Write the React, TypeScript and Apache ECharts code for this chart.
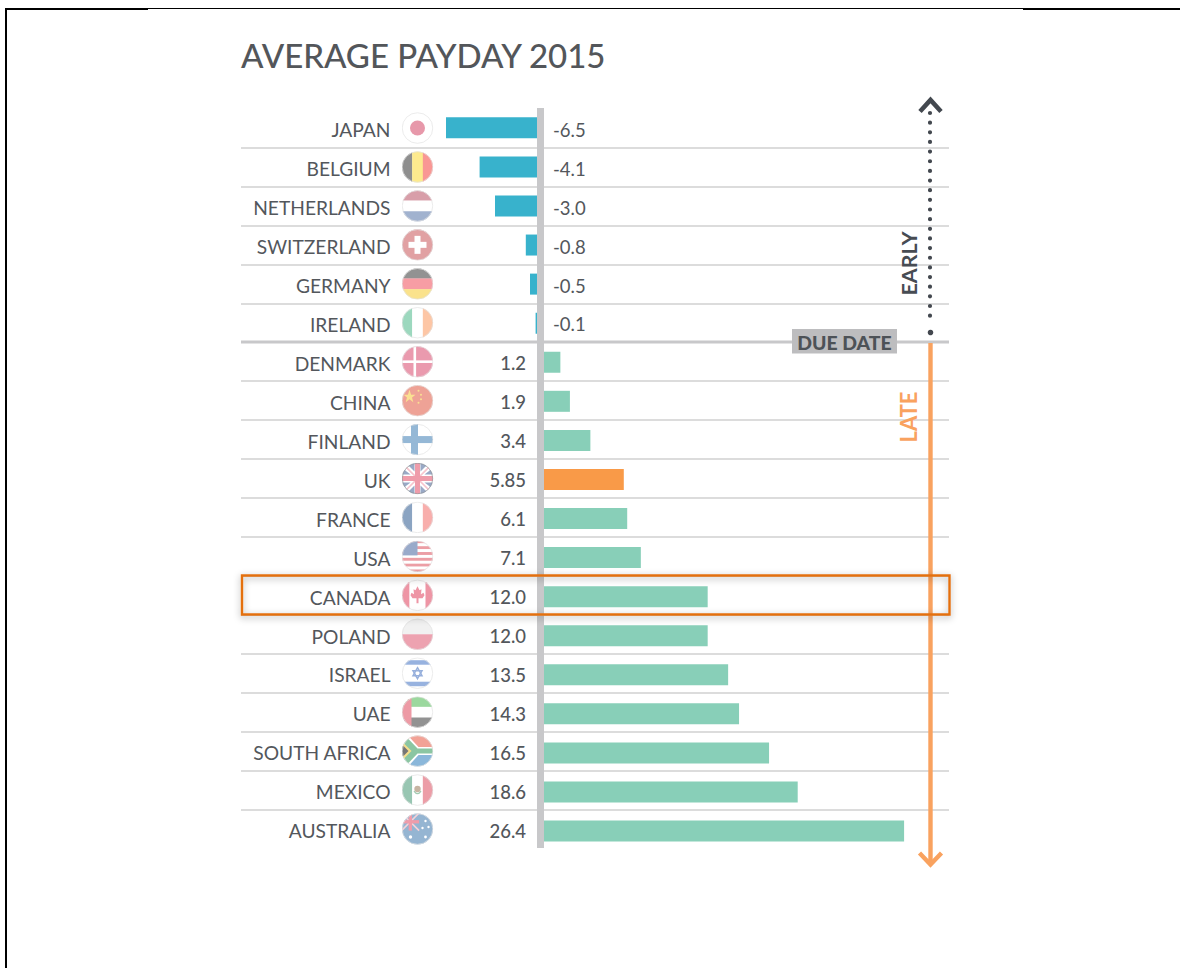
import React, { useEffect, useRef } from "react";
import * as echarts from "echarts";

const countries = ["JAPAN","BELGIUM","NETHERLANDS","SWITZERLAND","GERMANY","IRELAND","DENMARK","CHINA","FINLAND","UK","FRANCE","USA","CANADA","POLAND","ISRAEL","UAE","SOUTH AFRICA","MEXICO","AUSTRALIA"];
const values = [-6.5,-4.1,-3.0,-0.8,-0.5,-0.1,1.2,1.9,3.4,5.85,6.1,7.1,12.0,12.0,13.5,14.3,16.5,18.6,26.4];
const valueLabels = ["-6.5","-4.1","-3.0","-0.8","-0.5","-0.1","1.2","1.9","3.4","5.85","6.1","7.1","12.0","12.0","13.5","14.3","16.5","18.6","26.4"];
const highlighted = "UK";

const FONT = "Lato";
const TEXT = "#53575c";
const GRID = "#dcdcdc";
const AXIS = "#c8c8ca";
const EARLY = "#38b2cc";
const LATE = "#88cfb8";
const ORANGE = "#f99a48";
const DARK = "#43484f";

const stripesH = (c: string[]) => c.map((f, i) => `<rect x="0" y="${(32 / c.length) * i}" width="32" height="${32 / c.length + 0.2}" fill="${f}"/>`).join("");
const stripesV = (c: string[]) => c.map((f, i) => `<rect y="0" x="${(32 / c.length) * i}" height="32" width="${32 / c.length + 0.2}" fill="${f}"/>`).join("");
const unionJack = `<rect width="32" height="32" fill="#fff"/><polygon points="4,0 13,0 13,9" fill="#8094b8"/><polygon points="19,0 28,0 19,9" fill="#8094b8"/><polygon points="0,5 9,12 0,12" fill="#8094b8"/><polygon points="32,5 23,12 32,12" fill="#8094b8"/><polygon points="0,27 9,20 0,20" fill="#8094b8"/><polygon points="32,27 23,20 32,20" fill="#8094b8"/><polygon points="4,32 13,32 13,23" fill="#8094b8"/><polygon points="19,32 28,32 19,23" fill="#8094b8"/><path d="M0 0L32 32M32 0L0 32" stroke="#f5b6c0" stroke-width="1.6"/><rect x="13.5" width="5" height="32" fill="#ec8496"/><rect y="13.5" width="32" height="5" fill="#ec8496"/>`;

const flagArt: Record<string, string> = {
  JAPAN: `<rect width="32" height="32" fill="#fff"/><circle cx="16" cy="16" r="7.5" fill="#e27f95"/>`,
  BELGIUM: stripesV(["#737373", "#fde672", "#f87e7a"]),
  NETHERLANDS: stripesH(["#cf8794", "#ffffff", "#8a9fc4"]),
  SWITZERLAND: `<rect width="32" height="32" fill="#da8a8d"/><rect x="13" y="7" width="6" height="18" fill="#fff"/><rect x="7" y="13" width="18" height="6" fill="#fff"/>`,
  GERMANY: stripesH(["#777777", "#f6858e", "#f9dc70"]),
  IRELAND: stripesV(["#84cfae", "#ffffff", "#fdb98f"]),
  DENMARK: `<rect width="32" height="32" fill="#e6829b"/><rect x="12" width="2.6" height="32" fill="#fff"/><rect y="14.7" width="32" height="2.6" fill="#fff"/>`,
  CHINA: `<rect width="32" height="32" fill="#eb8c7c"/><polygon points="8,5 9.6,10 14,10 10.5,12.8 11.8,17.5 8,14.6 4.2,17.5 5.5,12.8 2,10 6.4,10" fill="#f9d977"/><circle cx="17" cy="6" r="1" fill="#f9d977"/><circle cx="19.5" cy="10" r="1" fill="#f9d977"/><circle cx="19.5" cy="14.5" r="1" fill="#f9d977"/><circle cx="17" cy="18" r="1" fill="#f9d977"/>`,
  FINLAND: `<rect width="32" height="32" fill="#fff"/><rect x="9.5" width="7" height="32" fill="#7ba7cd"/><rect y="12.5" width="32" height="7" fill="#7ba7cd"/>`,
  UK: unionJack,
  FRANCE: stripesV(["#6f8eb4", "#ffffff", "#f79a98"]),
  USA: stripesH(["#e8868f", "#fff", "#e8868f", "#fff", "#e8868f", "#fff", "#e8868f", "#fff", "#e8868f", "#fff", "#e8868f"]) + `<rect width="16" height="15" fill="#8095bd"/>`,
  CANADA: stripesV(["#ea7b8f", "#ffffff", "#ffffff", "#ea7b8f"]) + `<polygon points="16,7 18,11 20,10 19.5,15 22,13.5 23,16 21,19 17,19 17,24 15,24 15,19 11,19 9,16 10,13.5 12.5,15 12,10 14,11" fill="#ea7b8f"/>`,
  POLAND: stripesH(["#eeeeee", "#e98b9d"]),
  ISRAEL: `<rect width="32" height="32" fill="#fff"/><rect y="3" width="32" height="4.5" fill="#7ea0d8"/><rect y="24.5" width="32" height="4.5" fill="#7ea0d8"/><polygon points="16,10.5 20.5,18.5 11.5,18.5" fill="none" stroke="#7e9dd4" stroke-width="1.5"/><polygon points="16,21.5 20.5,13.5 11.5,13.5" fill="none" stroke="#7e9dd4" stroke-width="1.5"/>`,
  UAE: stripesH(["#83cf86", "#ffffff", "#777777"]) + `<rect width="10" height="32" fill="#e9828f"/>`,
  "SOUTH AFRICA": `<rect width="32" height="16" fill="#f08b7c"/><rect y="16" width="32" height="16" fill="#6ea6d1"/><polygon points="0,0 6,0 17,12 32,12 32,20 17,20 6,32 0,32" fill="#fff"/><polygon points="0,2 5,2 16,13.5 32,13.5 32,18.5 16,18.5 5,30 0,30" fill="#6fb98c"/><polygon points="0,6 10,16 0,26" fill="#f4d76f"/><polygon points="0,9 7,16 0,23" fill="#555"/>`,
  MEXICO: stripesV(["#7fb9a0", "#ffffff", "#e88592"]) + `<circle cx="16" cy="15" r="3.2" fill="#b9a28c"/><path d="M12.5 17 Q16 22 19.5 17" fill="none" stroke="#8bbd9f" stroke-width="1.3"/>`,
  AUSTRALIA: `<rect width="32" height="32" fill="#7ba3c8"/><g transform="scale(0.55)"><path d="M0 0L32 32M32 0L0 32" stroke="#f3c6cf" stroke-width="3"/><rect x="13" width="6" height="32" fill="#ec8496"/><rect y="13" width="32" height="6" fill="#ec8496"/></g><circle cx="9" cy="24" r="1.7" fill="#fff"/><circle cx="24" cy="8" r="1.2" fill="#fff"/><circle cx="27" cy="14" r="1.2" fill="#fff"/><circle cx="21" cy="15" r="1.2" fill="#fff"/><circle cx="24" cy="24" r="1.4" fill="#fff"/>`,
};

function flagSymbol(name: string) {
  const border = name === "UK" ? "#777b80" : "#dcdcdc";
  const id = "c" + name.replace(/\s/g, "");
  const svg = `<svg xmlns="http://www.w3.org/2000/svg" width="64" height="64" viewBox="0 0 32 32"><defs><clipPath id="${id}"><circle cx="16" cy="16" r="15.5"/></clipPath></defs><g clip-path="url(#${id})">${flagArt[name]}</g><circle cx="16" cy="16" r="15.3" fill="none" stroke="${border}" stroke-width="0.7"/></svg>`;
  return "image://data:image/svg+xml;charset=utf-8," + encodeURIComponent(svg);
}

const hLine = (x1: number, y1: number, x2: number, y2: number, stroke: string, lineWidth: number, z = 10, extra: any = {}) => ({
  type: "line", z, shape: { x1, y1, x2, y2 }, style: { stroke, lineWidth, ...extra },
});

export default function App() {
  const ref = useRef<HTMLDivElement>(null);
  useEffect(() => {
    const chart = echarts.init(ref.current!, undefined, { renderer: "svg" });
    const hiddenCat = (gridIndex: number, extra: any = {}) => ({
      type: "category", gridIndex, data: countries, inverse: true,
      axisLine: { show: false }, axisTick: { show: false }, axisLabel: { show: false }, splitLine: { show: false }, ...extra,
    });
    const hiddenVal = (gridIndex: number, min: number, max: number) => ({
      type: "value", gridIndex, min, max, show: false, splitLine: { show: false },
    });
    const valueLabelStyle = { fontFamily: FONT, fontSize: 18.5, color: TEXT, interval: 0 };
    chart.setOption({
      animation: false,
      backgroundColor: "#ffffff",
      title: {
        text: "AVERAGE PAYDAY 2015", left: 241, top: 38, padding: 0,
        textStyle: { fontFamily: FONT, fontSize: 33, fontWeight: 500, color: "#53565a" },
      },
      grid: [
        { left: 241, top: 108.56, width: 708, height: 739.9 },
        { left: 241, top: 108.3, width: 296, height: 742.3 },
        { left: 544, top: 108.3, width: 405, height: 742.3 },
        { left: 401.5, top: 108.56, width: 32, height: 739.9 },
        { left: 526, top: 110.3, width: 27, height: 739.9 },
        { left: 401.5, top: 110.3, width: 32, height: 739.9 },
      ],
      xAxis: [
        hiddenVal(0, 0, 1),
        hiddenVal(1, -296 / 14, 0),
        hiddenVal(2, 0, 405 / 13.64),
        hiddenVal(3, 0, 1),
        hiddenVal(4, 0, 1),
        hiddenVal(5, 0, 1),
      ],
      yAxis: [
        hiddenCat(0, { splitLine: { show: true, showMinLine: false, showMaxLine: false, interval: 0, lineStyle: { color: GRID, width: 2 } } }),
        hiddenCat(1),
        hiddenCat(2),
        hiddenCat(3),
        hiddenCat(4, { position: "left", axisLabel: { show: true, margin: 0, ...valueLabelStyle, fontWeight: 500, formatter: (_: string, i: number) => (values[i] > 0 ? valueLabels[i] : "") } }),
        hiddenCat(4, { position: "right", axisLabel: { show: true, margin: 0, ...valueLabelStyle, formatter: (_: string, i: number) => (values[i] < 0 ? valueLabels[i] : "") } }),
        hiddenCat(5, { axisLabel: { show: true, interval: 0, margin: 11, fontFamily: FONT, fontSize: 19.2, color: TEXT } }),
      ],
      series: [
        {
          type: "bar", name: "Early", xAxisIndex: 1, yAxisIndex: 1, barWidth: 21,
          itemStyle: { color: EARLY },
          data: values.map((v) => (v < 0 ? v : null)),
        },
        {
          type: "bar", name: "Late", xAxisIndex: 2, yAxisIndex: 2, barWidth: 21,
          itemStyle: { color: LATE },
          data: values.map((v, i) => (v > 0 ? { value: v, itemStyle: { color: countries[i] === highlighted ? ORANGE : LATE } } : null)),
        },
        {
          type: "scatter", name: "Flags", xAxisIndex: 3, yAxisIndex: 3, symbolSize: 32, silent: true,
          data: countries.map((c) => ({ value: [0.5, c], symbol: flagSymbol(c) })),
        },
      ],
      graphic: [
        { type: "rect", z: 20, shape: { x: 5, y: 8, width: 2, height: 960 }, style: { fill: "#000" } },
        { type: "rect", z: 20, shape: { x: 5, y: 8, width: 143, height: 2 }, style: { fill: "#000" } },
        { type: "rect", z: 20, shape: { x: 148, y: 8, width: 875, height: 1 }, style: { fill: "#000" } },
        { type: "rect", z: 20, shape: { x: 1023, y: 8, width: 157, height: 2 }, style: { fill: "#000" } },
        hLine(241, 342, 949, 342, "#c8c8ca", 3, 10),
        { type: "rect", z: 11, shape: { x: 537, y: 108, width: 7, height: 740 }, style: { fill: AXIS } },
        hLine(930, 113, 930, 322, DARK, 4.2, 12, { lineDash: [0, 9.65], lineCap: "round" }),
        { type: "circle", z: 12, shape: { cx: 930.5, cy: 332.5, r: 2.8 }, style: { fill: DARK } },
        { type: "polyline", z: 12, shape: { points: [[920, 111.5], [930.5, 100], [941, 111.5]] }, style: { stroke: DARK, lineWidth: 4.6, fill: "none" } },
        hLine(930.5, 343, 930.5, 864, "#f9a25f", 4.4, 12),
        { type: "polyline", z: 12, shape: { points: [[919.5, 853], [930.5, 864.5], [941.5, 853]] }, style: { stroke: "#f9a25f", lineWidth: 4.4, fill: "none" } },
        { type: "rect", z: 13, shape: { x: 792, y: 329, width: 105, height: 24.5 }, style: { fill: "#bdbdbf" } },
        { type: "text", z: 14, x: 844.5, y: 342, style: { text: "DUE DATE", font: `900 19.4px ${FONT}`, fill: "#4d5257", align: "center", verticalAlign: "middle" } },
        { type: "text", z: 14, x: 908.5, y: 263.5, rotation: Math.PI / 2, style: { text: "EARLY", font: `700 21.5px ${FONT}`, fill: "#474c53", align: "center", verticalAlign: "middle" } },
        { type: "text", z: 14, x: 908.5, y: 417, rotation: Math.PI / 2, style: { text: "LATE", font: `700 22px ${FONT}`, fill: "#f9a25f", align: "center", verticalAlign: "middle" } },
        { type: "rect", z: 15, shape: { x: 242, y: 575.5, width: 707.5, height: 39 }, style: { fill: "none", stroke: "#e4700f", lineWidth: 2.4, shadowBlur: 7, shadowColor: "rgba(0,0,0,0.35)", shadowOffsetY: 2 } },
      ],
    });
    return () => chart.dispose();
  }, []);
  return <div ref={ref} style={{ position: "absolute", left: 0, top: 0, width: 1180, height: 968 }} />;
}
